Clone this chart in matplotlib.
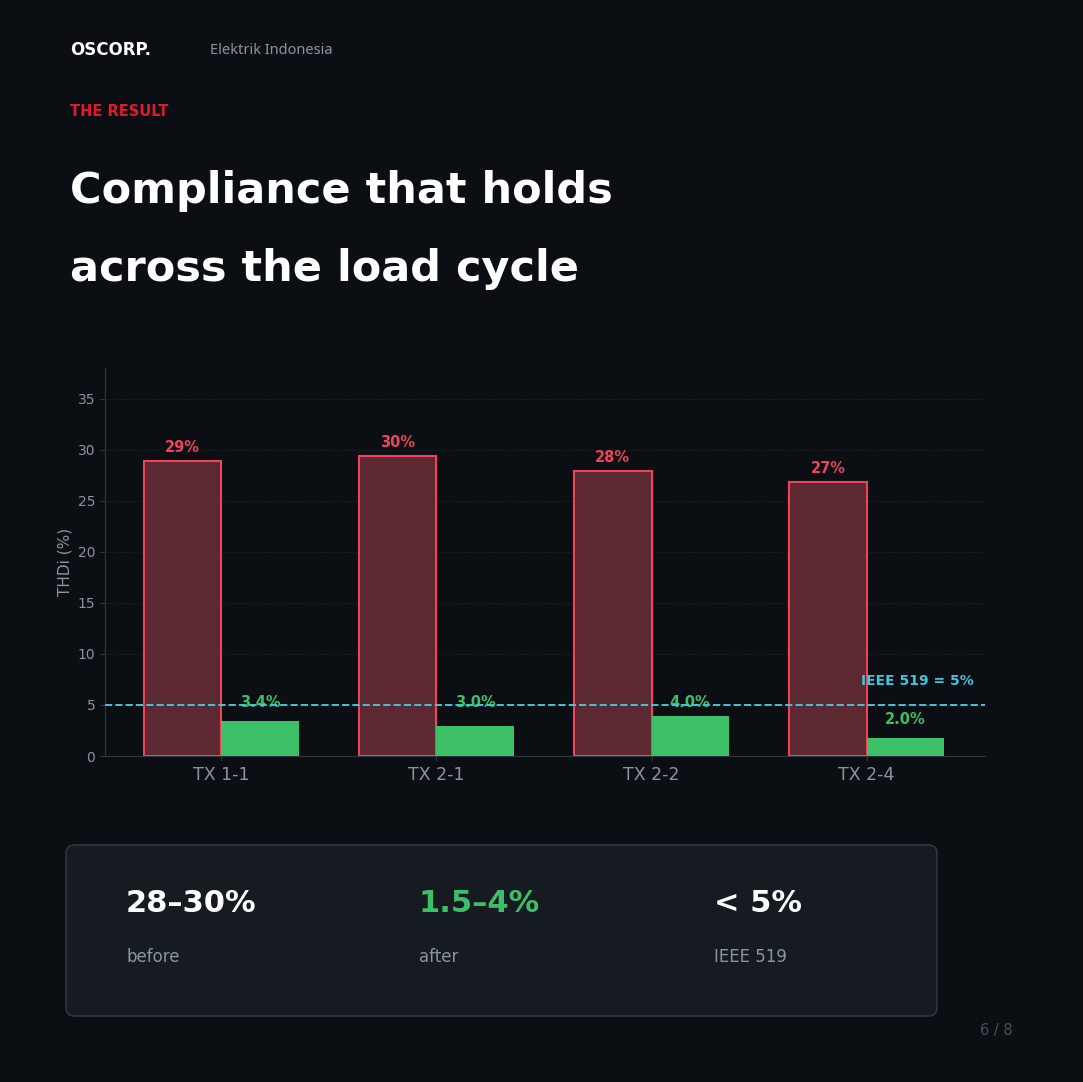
import os
import numpy as np
import matplotlib
import matplotlib.pyplot as plt
from matplotlib.patches import FancyBboxPatch
from matplotlib.font_manager import FontProperties

ttf = os.path.join(matplotlib.get_data_path(), "fonts", "ttf")
DJB = os.path.join(ttf, "DejaVuSans-Bold.ttf")
DJ = os.path.join(ttf, "DejaVuSans.ttf")

def fp(size, bold=True):
    return FontProperties(fname=DJB if bold else DJ, size=size)

# data
groups = ["TX 1-1", "TX 2-1", "TX 2-2", "TX 2-4"]
before = [28.9, 29.4, 27.9, 26.8]
after = [3.4, 2.9, 3.9, 1.8]
before_labels = ["29%", "30%", "28%", "27%"]
after_labels = ["3.4%", "3.0%", "4.0%", "2.0%"]
limit = 5
stat_values = ["28\u201330%", "1.5\u20134%", "< 5%"]
stat_captions = ["before", "after", "IEEE 519"]

BG = "#0b0f14"
RED = "#f0435a"
GREEN = "#3dbf68"
CYAN = "#3ec6dc"
MUTED = "#8b949e"

fig = plt.figure(figsize=(10.83, 10.82), dpi=100, facecolor=BG)

# header
fig.text(70/1083, 1-50/1082, "OSCORP.", color="white", fontproperties=fp(12), va="center")
fig.text(210/1083, 1-51/1082, "Elektrik Indonesia", color=MUTED, fontsize=10.5, va="center", family="Noto Sans")
fig.text(70/1083, 1-112/1082, "THE RESULT", color="#e0192f", fontproperties=fp(10.5), va="center")
fig.text(70/1083, 1-191/1082, "Compliance that holds", color="white", fontproperties=fp(31), va="center")
fig.text(70/1083, 1-269/1082, "across the load cycle", color="white", fontproperties=fp(31), va="center")

# chart
ax = fig.add_axes([105/1083, 1-756/1082, 880/1083, 388/1082], facecolor=BG)
x = np.arange(len(groups))
w = 0.36
ax.bar(x - w/2, before, w, color="#5c2832", edgecolor=RED, linewidth=1.5, zorder=3)
ax.bar(x + w/2, after, w, color=GREEN, zorder=3)
for i in range(len(groups)):
    ax.text(x[i] - w/2, before[i] + 0.6, before_labels[i], color=RED, fontproperties=fp(10.5),
            ha="center", va="bottom")
    ax.text(x[i] + w/2, max(after[i], 4.4) + 0.1 if i < 3 else after[i] + 1.0, after_labels[i],
            color=GREEN, fontproperties=fp(10.5), ha="center", va="bottom", zorder=2)
ax.axhline(limit, color=CYAN, linestyle="--", linewidth=1.4, zorder=4)
ax.text(3.5, 7.0, "IEEE 519 = 5%", color=CYAN, fontproperties=fp(10), ha="right")
ax.set_xlim(-0.54, 3.55)
ax.set_ylim(0, 38)
ax.set_yticks(range(0, 36, 5))
ax.set_xticks(x)
ax.set_xticklabels(groups, color=MUTED)
for t in ax.get_xticklabels():
    t.set_fontproperties(fp(12.5, False))
for t in ax.get_yticklabels():
    t.set_fontproperties(fp(10, False))
ax.tick_params(axis="y", colors="#30363d", labelcolor=MUTED)
ax.tick_params(axis="x", colors="#30363d", labelcolor=MUTED)
ax.set_ylabel("THDi (%)", color=MUTED, fontproperties=fp(11, False))
ax.grid(axis="y", color="#21262d", linestyle=":", linewidth=0.8, zorder=0)
for s in ["top", "right"]:
    ax.spines[s].set_visible(False)
for s in ["left", "bottom"]:
    ax.spines[s].set_color("#30363d")

# stat card
card = FancyBboxPatch((66/1083, 1-1016/1082), 871/1083, 171/1082,
                      boxstyle="round,pad=0,rounding_size=0.008", transform=fig.transFigure,
                      facecolor="#161b22", edgecolor="#30363d", linewidth=1.2)
fig.patches.append(card)
stat_x = [126, 419, 714]
stat_colors = ["white", GREEN, "white"]
for sx, v, c, col in zip(stat_x, stat_values, stat_captions, stat_colors):
    fig.text(sx/1083, 1-903/1082, v, color=col, fontproperties=fp(22), va="center")
    fig.text(sx/1083, 1-957/1082, c, color=MUTED, fontproperties=fp(12, False), va="center")

fig.text(1013/1083, 1-1031/1082, "6 / 8", color="#484f58", fontproperties=fp(10.5, False), ha="right", va="center")

fig.savefig("out.png", dpi=100, facecolor=BG)
